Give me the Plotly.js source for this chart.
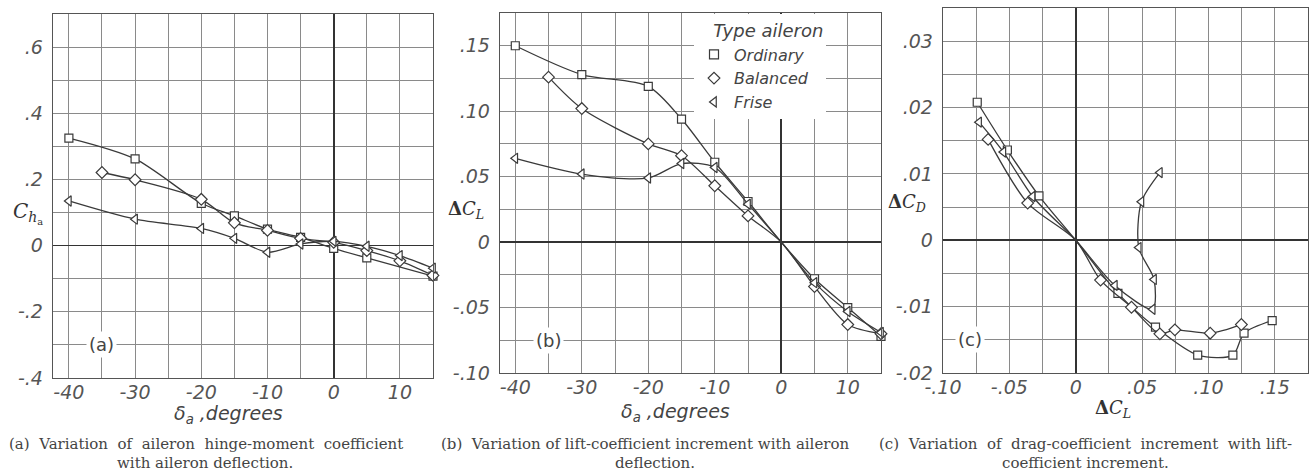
<!DOCTYPE html>
<html><head><meta charset="utf-8">
<script src="https://cdn.plot.ly/plotly-3.0.1.min.js"></script>
<style>html,body{margin:0;padding:0;background:#fff}#chart{width:1312px;height:471px}</style>
</head><body><div id="chart"></div>
<script>
// ---------- data ----------
const seriesNames = ['Ordinary', 'Balanced', 'Frise'];
const legendTitle = 'Type aileron';

// (a) hinge-moment coefficient vs aileron deflection
const aOrdDefl = [-40, -30, -20, -15, -10, -5, 0, 5, 15];
const aOrdCh   = [0.325, 0.262, 0.128, 0.090, 0.050, 0.025, -0.008, -0.037, -0.092];
const aBalDefl = [-35, -30, -20, -15, -10, -5, 0, 5, 10, 15];
const aBalCh   = [0.221, 0.199, 0.140, 0.069, 0.046, 0.022, 0.010, -0.015, -0.046, -0.090];
const aFriDefl = [-40, -30, -20, -15, -10, -5, 0, 5, 10, 15];
const aFriCh   = [0.135, 0.080, 0.052, 0.022, -0.020, 0.005, 0.013, -0.002, -0.030, -0.068];

// (b) lift-coefficient increment vs aileron deflection
const bOrdDefl = [-40, -30, -20, -15, -10, -5, 0, 5, 10, 15];
const bOrdCL   = [0.150, 0.128, 0.119, 0.094, 0.061, 0.031, 0, -0.028, -0.050, -0.072];
const bBalDefl = [-35, -30, -20, -15, -10, -5, 0, 5, 10, 15];
const bBalCL   = [0.126, 0.102, 0.075, 0.066, 0.043, 0.020, 0, -0.034, -0.063, -0.070];
const bFriDefl = [-40, -30, -20, -15, -10, -5, 0, 5, 10, 15];
const bFriCL   = [0.064, 0.052, 0.049, 0.060, 0.057, 0.029, 0, -0.031, -0.053, -0.069];

// (c) drag-coefficient increment vs lift-coefficient increment
const cOrdCL = [-0.0742, -0.0515, -0.0277, 0, 0.0318, 0.0601, 0.0919, 0.1184, 0.1268, 0.148];
const cOrdCD = [0.0208, 0.0136, 0.0067, 0, -0.0080, -0.0131, -0.0173, -0.0173, -0.0140, -0.0121];
const cBalCL = [-0.066, -0.0362, 0, 0.0187, 0.042, 0.0634, 0.0747, 0.1013, 0.1248];
const cBalCD = [0.0152, 0.0056, 0, -0.0060, -0.0101, -0.0141, -0.0135, -0.0140, -0.0127];
const cFriCL = [-0.0728, -0.0545, -0.0325, 0, 0.0295, 0.058, 0.059, 0.0475, 0.0495, 0.0634];
const cFriCD = [0.0178, 0.0133, 0.0066, 0, -0.0068, -0.0104, -0.0059, -0.0011, 0.0058, 0.0102];

// tick labels
const aXTickVals = [-40, -30, -20, -10, 0, 10];
const aXTickText = ['-40', '-30', '-20', '-10', '0', '10'];
const aYTickVals = [-0.4, -0.2, 0, 0.2, 0.4, 0.6];
const aYTickText = ['-.4', '-.2', '0', '.2', '.4', '.6'];
const bXTickVals = [-40, -30, -20, -10, 0, 10];
const bXTickText = ['-40', '-30', '-20', '-10', '0', '10'];
const bYTickVals = [-0.10, -0.05, 0, 0.05, 0.10, 0.15];
const bYTickText = ['-.10', '-.05', '0', '.05', '.10', '.15'];
const cXTickVals = [-0.10, -0.05, 0, 0.05, 0.10, 0.15];
const cXTickText = ['-.10', '-.05', '0', '.05', '.10', '.15'];
const cYTickVals = [-0.02, -0.01, 0, 0.01, 0.02, 0.03];
const cYTickText = ['-.02', '-.01', '0', '.01', '.02', '.03'];

// ---------- styling ----------
const W = 1312, H = 471;
const LINE = '#3a3a3a', GRID = '#8a8a8a', ZERO = '#333', FRAME = '#555';
const TICKFONT = {family: 'DejaVu Sans, sans-serif', size: 19, color: '#555', style: 'italic'};
const symbols = ['square', 'diamond', 'triangle-left'];
const msize = [8, 9, 9];

function px2x(p) { return p / W; }
function px2y(p) { return 1 - p / H; }

function axis(domPx, range, tickvals, ticktext, minorDtick, anchor, isY) {
  const dom = isY ? [px2y(domPx[1]), px2y(domPx[0])] : [px2x(domPx[0]), px2x(domPx[1])];
  return {
    domain: dom, range: range, anchor: anchor,
    tickmode: 'array', tickvals: tickvals, ticktext: ticktext,
    showgrid: true, gridcolor: GRID, gridwidth: 1,
    minor: {tickmode: 'linear', tick0: 0, dtick: minorDtick, showgrid: true, gridcolor: GRID, gridwidth: 1, ticks: ''},
    zeroline: true, zerolinecolor: ZERO, zerolinewidth: 1.7,
    showline: true, mirror: true, linecolor: FRAME, linewidth: 1.3,
    ticks: '', tickfont: TICKFONT, fixedrange: true,
    ticklabelstandoff: isY ? 5 : -3
  };
}

function trace(x, y, xa, ya, k, hideOrigin) {
  const op = x.map((v, i) => (hideOrigin && v === 0 && y[i] === 0) ? 0 : 1);
  return {
    x: x, y: y, xaxis: xa, yaxis: ya, mode: 'lines+markers',
    line: {shape: 'spline', smoothing: 0.8, color: LINE, width: 1.3},
    marker: {symbol: symbols[k], size: msize[k], color: '#fff', opacity: op, line: {color: LINE, width: 1.2}},
    showlegend: false, hoverinfo: 'skip', cliponaxis: false, name: seriesNames[k]
  };
}

const data = [
  trace(aOrdDefl, aOrdCh, 'x', 'y', 0, false),
  trace(aBalDefl, aBalCh, 'x', 'y', 1, false),
  trace(aFriDefl, aFriCh, 'x', 'y', 2, false),
  trace(bOrdDefl, bOrdCL, 'x2', 'y2', 0, true),
  trace(bBalDefl, bBalCL, 'x2', 'y2', 1, true),
  trace(bFriDefl, bFriCL, 'x2', 'y2', 2, true),
  trace(cOrdCL, cOrdCD, 'x3', 'y3', 0, true),
  trace(cBalCL, cBalCD, 'x3', 'y3', 1, true),
  trace(cFriCL, cFriCD, 'x3', 'y3', 2, true)
];
seriesNames.forEach((n, k) => data.push({
  x: [null], y: [null], xaxis: 'x2', yaxis: 'y2', mode: 'markers', name: n, showlegend: true,
  marker: {symbol: symbols[k], size: 9, color: '#fff', line: {color: LINE, width: 1.2}}, hoverinfo: 'skip'
}));

const LBL = {family: 'DejaVu Sans, sans-serif', size: 19, color: '#444', style: 'italic'};
const SERIF = {family: 'DejaVu Serif, serif', size: 18, color: '#333'};
const CAP = {family: 'DejaVu Serif, serif', size: 15, color: '#444'};

function pAnn(text, x, y, font, extra) {
  return Object.assign({text: text, xref: 'paper', yref: 'paper', x: px2x(x), y: px2y(y),
    xanchor: 'center', yanchor: 'middle', showarrow: false, font: font}, extra || {});
}
function dAnn(text, xr, yr, x, y) {
  return {text: text, xref: xr, yref: yr, x: x, y: y, showarrow: false, bgcolor: '#fff',
    font: {family: 'DejaVu Sans, sans-serif', size: 18, color: '#444'}, borderpad: 2};
}

const annotations = [
  pAnn('<i>C</i><sub><i>h</i><sub>a</sub></sub>', 28, 213, Object.assign({}, SERIF, {size: 20})),
  pAnn('δ<sub>a</sub> ,degrees', 229, 414, LBL),
  pAnn('<b>Δ</b><i>C</i><sub><i>L</i></sub>', 466, 210, SERIF),
  pAnn('δ<sub>a</sub> ,degrees', 675, 412, LBL),
  pAnn('<b>Δ</b><i>C</i><sub><i>D</i></sub>', 907, 203, SERIF),
  pAnn('<b>Δ</b><i>C</i><sub><i>L</i></sub>', 1113, 409, SERIF),
  dAnn('(a)', 'x', 'y', -35, -0.3),
  dAnn('(b)', 'x2', 'y2', -35, -0.075),
  dAnn('(c)', 'x3', 'y3', -0.08, -0.015),
  pAnn('(a)  Variation  of  aileron  hinge-moment  coefficient', 206, 444, CAP),
  pAnn('with aileron deflection.', 205, 463, CAP),
  pAnn('(b)  Variation of lift-coefficient increment with aileron', 645, 444, CAP),
  pAnn('deflection.', 655, 463, CAP),
  pAnn('(c)  Variation  of  drag-coefficient  increment  with lift-', 1085, 444, CAP),
  pAnn('coefficient increment.', 1085, 463, CAP)
];

const layout = {
  width: W, height: H, margin: {l: 0, r: 0, t: 0, b: 0},
  paper_bgcolor: '#fff', plot_bgcolor: '#fff', showlegend: true,
  xaxis:  axis([53, 433], [-42.4, 15], aXTickVals, aXTickText, 5, 'y', false),
  yaxis:  axis([14, 378], [-0.4, 0.7], aYTickVals, aYTickText, 0.1, 'x', true),
  xaxis2: axis([500, 881], [-42.3, 15], bXTickVals, bXTickText, 5, 'y2', false),
  yaxis2: axis([13, 373], [-0.10, 0.175], bYTickVals, bYTickText, 0.025, 'x2', true),
  xaxis3: axis([943, 1308], [-0.10, 0.175], cXTickVals, cXTickText, 0.025, 'y3', false),
  yaxis3: axis([8, 373], [-0.02, 0.035], cYTickVals, cYTickText, 0.005, 'x3', true),
  legend: {
    x: px2x(694), xanchor: 'left', y: px2y(14), yanchor: 'top',
    bgcolor: '#fff', borderwidth: 0, tracegroupgap: 0,
    font: {family: 'DejaVu Sans, sans-serif', size: 16, color: '#444', style: 'italic'},
    title: {text: '\u00a0\u00a0\u00a0' + legendTitle, side: 'top',
            font: {family: 'DejaVu Sans, sans-serif', size: 18, color: '#444', style: 'italic'}}
  },
  annotations: annotations
};

Plotly.newPlot('chart', data, layout, {staticPlot: true, displayModeBar: false});
</script></body></html>
